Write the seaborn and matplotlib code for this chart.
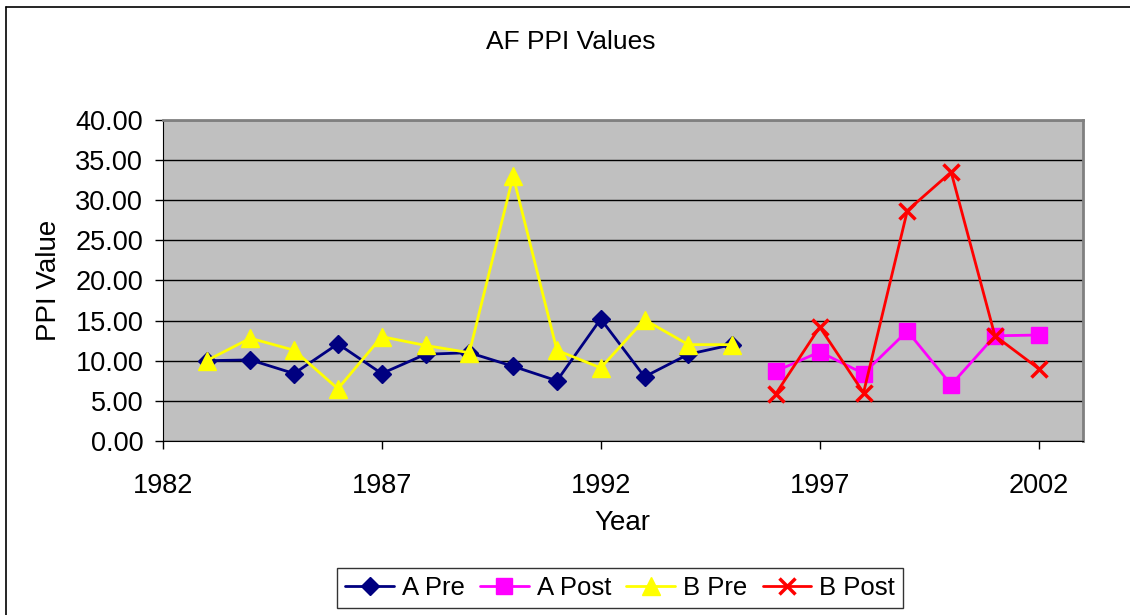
import pandas as pd
import numpy as np
import seaborn as sns
import matplotlib.pyplot as plt
from matplotlib.lines import Line2D

# values
years_pre = [1983, 1984, 1985, 1986, 1987, 1988, 1989, 1990, 1991, 1992, 1993, 1994, 1995]
a_pre = [10.0, 10.1, 8.4, 12.1, 8.4, 10.8, 11.0, 9.3, 7.5, 15.2, 8.0, 10.8, 12.0]
b_pre = [10.0, 12.8, 11.3, 6.5, 13.0, 11.9, 11.0, 33.0, 11.3, 9.1, 15.1, 12.0, 12.0]

years_post = [1996, 1997, 1998, 1999, 2000, 2001, 2002]
a_post = [8.7, 11.1, 8.4, 13.7, 7.0, 13.1, 13.2]
b_post = [5.9, 14.2, 6.0, 28.7, 33.5, 13.1, 9.0]

series_names = ['A Pre', 'A Post', 'B Pre', 'B Post']
colors = {'A Pre': '#000080', 'A Post': '#FF00FF', 'B Pre': '#FFFF00', 'B Post': '#FF0000'}
markers = {'A Pre': 'D', 'A Post': 's', 'B Pre': '^', 'B Post': 'x'}
msizes = {'A Pre': 9, 'A Post': 11, 'B Pre': 13, 'B Post': 12}

# long table for seaborn
frames = [
    pd.DataFrame({'Year': years_pre, 'PPI': a_pre, 'Series': 'A Pre'}),
    pd.DataFrame({'Year': years_post, 'PPI': a_post, 'Series': 'A Post'}),
    pd.DataFrame({'Year': years_pre, 'PPI': b_pre, 'Series': 'B Pre'}),
    pd.DataFrame({'Year': years_post, 'PPI': b_post, 'Series': 'B Post'}),
]
df = pd.concat(frames, ignore_index=True)

sns.set_style('white')
plt.rcParams['font.family'] = ['Liberation Sans', 'DejaVu Sans']
plt.rcParams['text.color'] = 'black'
plt.rcParams['axes.labelcolor'] = 'black'
plt.rcParams['xtick.color'] = 'black'
plt.rcParams['ytick.color'] = 'black'

fig = plt.figure(figsize=(11.3, 6.15), dpi=100)
ax = fig.add_axes([0.144, 0.283, 0.814, 0.522])
ax.set_facecolor('#C0C0C0')

for name in series_names:
    sub = df[df['Series'] == name]
    sns.lineplot(data=sub, x='Year', y='PPI', ax=ax, color=colors[name], marker=markers[name],
                 markersize=msizes[name], markeredgecolor=colors[name],
                 markeredgewidth=2.5 if name == 'B Post' else 1, linewidth=2, label=name)

ax.set_xlim(1982, 2003)
ax.set_ylim(0, 40)
ax.set_xticks([1982, 1987, 1992, 1997, 2002])
ax.set_yticks(np.arange(0, 41, 5))
ax.set_yticklabels([f'{v:.2f}' for v in np.arange(0, 41, 5)])
ax.yaxis.grid(True, color='black', linewidth=1)
ax.set_axisbelow(True)
ax.tick_params(axis='both', labelsize=19.5, length=6, direction='out', color='black',
               left=True, bottom=True, width=1)
ax.tick_params(axis='x', pad=17)
ax.tick_params(axis='y', pad=8)
for side in ['top', 'right']:
    ax.spines[side].set_color('#808080')
    ax.spines[side].set_linewidth(2)
ax.spines['left'].set_color('black')
ax.spines['bottom'].set_color('black')

fig.text(0.505, 1 - 42 / 615, 'AF PPI Values', fontsize=19, ha='center', va='center')
ax.set_xlabel('Year', fontsize=20)
ax.xaxis.set_label_coords(0.5, -0.215)
ax.set_ylabel('PPI Value', fontsize=20)
ax.yaxis.set_label_coords(-0.11, 0.5)

handles, labels = ax.get_legend_handles_labels()
ax.get_legend().remove()
leg = fig.legend(handles, labels, loc='center', bbox_to_anchor=(620 / 1130, 1 - 588 / 615),
                 ncol=4, fontsize=18.5, frameon=True, fancybox=False, edgecolor='black',
                 handlelength=1.9, handletextpad=0.3, columnspacing=0.6, borderpad=0.3)
leg.get_frame().set_linewidth(1)

# outer chart border (left and top edges visible)
fig.add_artist(Line2D([6 / 1130, 6 / 1130], [0, 1 - 7 / 615], transform=fig.transFigure,
                      color='black', linewidth=1.2))
fig.add_artist(Line2D([6 / 1130, 1], [1 - 7 / 615, 1 - 7 / 615], transform=fig.transFigure,
                      color='black', linewidth=1.2))

fig.savefig('out.png', dpi=100)
